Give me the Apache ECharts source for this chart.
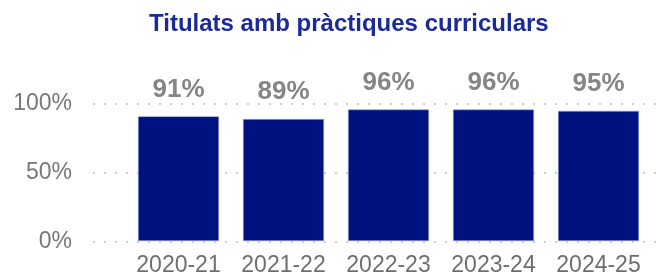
<!DOCTYPE html>
<html>
<head>
<meta charset="utf-8">
<script src="https://cdn.jsdelivr.net/npm/echarts@6/dist/echarts.min.js"></script>
<style>html,body{margin:0;padding:0;background:#fff;}#c{width:661px;height:277px;}</style>
</head>
<body>
<div id="c"></div>
<script>
const categories = ['2020-21', '2021-22', '2022-23', '2023-24', '2024-25'];
const values = [91, 89, 96, 96, 95];
const yTicks = [0, 50, 100];

const chart = echarts.init(document.getElementById('c'), null, {renderer: 'canvas'});
chart.setOption({
  animation: false,
  title: {
    text: 'Titulats amb pràctiques curriculars',
    left: 144, top: 7,
    textStyle: {fontFamily: 'Liberation Sans, Arial, sans-serif', fontWeight: 'bold', fontSize: 24, color: '#1a2b99'}
  },
  grid: [
    {left: 126, right: 10, top: 104, bottom: 35.5},
    {left: 93, right: 0, top: 104, bottom: 35.5}
  ],
  xAxis: [
    {
      gridIndex: 0, type: 'category', data: categories,
      axisLine: {show: false}, axisTick: {show: false},
      axisLabel: {interval: 0, hideOverlap: false, margin: 13, fontSize: 23, color: '#6e6e6e', fontFamily: 'Liberation Sans, Arial, sans-serif'}
    },
    {gridIndex: 1, type: 'value', min: 0, max: 1, show: false}
  ],
  yAxis: [
    {gridIndex: 0, type: 'value', min: 0, max: 100, interval: 50, show: false, splitLine: {show: false}},
    {
      gridIndex: 1, type: 'value', min: yTicks[0], max: yTicks[yTicks.length - 1], interval: yTicks[1] - yTicks[0],
      axisLine: {show: false}, axisTick: {show: false},
      axisLabel: {margin: 21, fontSize: 23, color: '#777777', formatter: '{value}%', fontFamily: 'Liberation Sans, Arial, sans-serif'},
      splitLine: {show: true, lineStyle: {color: '#bfbfbf', width: 1.5, type: [2, 9]}}
    }
  ],
  series: [
    {
      type: 'bar', xAxisIndex: 0, yAxisIndex: 0, data: values, barWidth: 81, z: 5,
      itemStyle: {color: '#00127f', borderColor: '#9fa6d6', borderWidth: 0.6},
      label: {
        show: true, position: 'top', distance: 14, formatter: '{c}%',
        fontSize: 26, fontWeight: 'bold', color: '#858585', fontFamily: 'Liberation Sans, Arial, sans-serif'
      }
    }
  ]
});
</script>
</body>
</html>
